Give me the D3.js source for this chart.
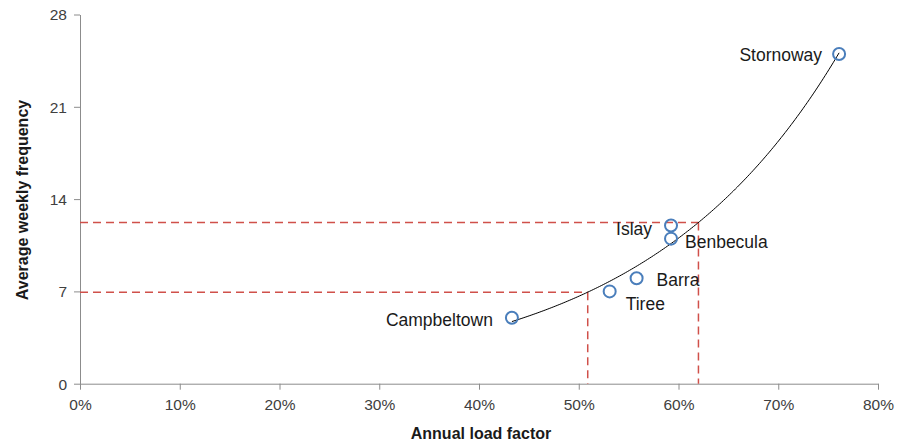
<!DOCTYPE html>
<html><head><meta charset="utf-8">
<script src="https://cdn.jsdelivr.net/npm/d3@7"></script>
<style>body{margin:0;background:#fff}</style>
</head><body>
<svg id="c" width="911" height="441"></svg>
<script>
const airports = ["Stornoway","Islay","Benbecula","Barra","Tiree","Campbeltown"];
const loadFactor = [0.761,0.5925,0.5925,0.558,0.531,0.433];
const weeklyFreq = [25,12,11,8,7,5];
const xTicks = [0,0.1,0.2,0.3,0.4,0.5,0.6,0.7,0.8];
const yTicks = [0,7,14,21,28];
const refX = [0.509,0.62];

const svg = d3.select("#c");
const x = d3.scaleLinear().domain([0,0.8]).range([80,878]);
const y = d3.scaleLinear().domain([0,28]).range([383.7,14.5]);
const font = "'Liberation Sans', Arial, sans-serif";

// exponential trendline (least squares on ln y)
const n = loadFactor.length;
const mx = d3.mean(loadFactor), ml = d3.mean(weeklyFreq.map(Math.log));
let sxy=0,sxx=0;
for(let i=0;i<n;i++){sxy+=(loadFactor[i]-mx)*(Math.log(weeklyFreq[i])-ml);sxx+=(loadFactor[i]-mx)**2;}
const b = sxy/sxx, lnA = ml - b*mx;
const fit = v => Math.exp(lnA + b*v);

// axes
const xAxis = svg.append("g").attr("transform",`translate(0,${y(0)})`)
  .call(d3.axisBottom(x).tickValues(xTicks).tickFormat(d3.format(".0%")).tickSize(6).tickSizeOuter(0));
const yAxis = svg.append("g").attr("transform",`translate(${x(0)},0)`)
  .call(d3.axisLeft(y).tickValues(yTicks).tickSize(6).tickSizeOuter(0));
[xAxis,yAxis].forEach(g=>{
  g.selectAll("path,line").attr("stroke","#8c8c8c");
  g.selectAll("text").attr("font-family",font).attr("font-size",15.5).attr("fill","#404040");
});
xAxis.selectAll("text").attr("dy","1.1em");
yAxis.selectAll("text").attr("dx","-4").attr("dy","0.35em");

// reference dashed lines
const red = "#d0504a";
refX.forEach(v=>{
  svg.append("line").attr("x1",x(0)).attr("x2",x(v)).attr("y1",y(fit(v))).attr("y2",y(fit(v)))
    .attr("stroke",red).attr("stroke-width",1.5).attr("stroke-dasharray","8,5");
  svg.append("line").attr("x1",x(v)).attr("x2",x(v)).attr("y1",y(fit(v))).attr("y2",y(0))
    .attr("stroke",red).attr("stroke-width",1.5).attr("stroke-dasharray","8,5");
});

// trendline
const xs = d3.range(d3.min(loadFactor), d3.max(loadFactor)+1e-9, 0.002);
svg.append("path").attr("d", d3.line().x(d=>x(d)).y(d=>y(fit(d)))(xs))
  .attr("fill","none").attr("stroke","#000").attr("stroke-width",1);

// points
const data = airports.map((a,i)=>({a,x:loadFactor[i],y:weeklyFreq[i]}));
svg.selectAll("circle.p").data(data).join("circle").attr("class","p")
  .attr("cx",d=>x(d.x)).attr("cy",d=>y(d.y)).attr("r",6)
  .attr("fill","none").attr("stroke","#4a7ebb").attr("stroke-width",2);

// labels
const lab = {Stornoway:[-17,1,"end"],Islay:[-19,3,"end"],Benbecula:[14,3,"start"],Barra:[20,2,"start"],Tiree:[16,12,"start"],Campbeltown:[-19,2,"end"]};
svg.selectAll("text.l").data(data).join("text").attr("class","l")
  .attr("x",d=>x(d.x)+lab[d.a][0]).attr("y",d=>y(d.y)+lab[d.a][1])
  .attr("text-anchor",d=>lab[d.a][2]).attr("dy","0.35em")
  .attr("font-family",font).attr("font-size",17.5).attr("fill","#1a1a1a").text(d=>d.a);

// axis titles
svg.append("text").attr("x",481).attr("y",439).attr("text-anchor","middle")
  .attr("font-family",font).attr("font-size",16).attr("font-weight","bold").attr("fill","#1a1a1a")
  .text("Annual load factor");
svg.append("text").attr("transform","translate(28,200) rotate(-90)").attr("text-anchor","middle")
  .attr("font-family",font).attr("font-size",16).attr("font-weight","bold").attr("fill","#1a1a1a")
  .text("Average weekly frequency");
</script>
</body></html>
